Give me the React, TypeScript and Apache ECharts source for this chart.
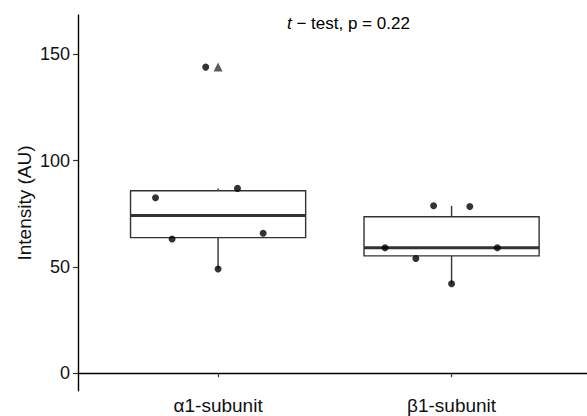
import React, { useEffect, useRef } from "react";
import * as echarts from "echarts";

const categories = ["α1-subunit", "β1-subunit"];
const alphaValues = [143.9, 82.5, 86.9, 63.1, 49.0, 65.8];
const alphaJitter = [0.947, 0.732, 1.083, 0.803, 1.0, 1.193];
const betaValues = [78.7, 78.4, 59.0, 59.0, 53.9, 42.1];
const betaJitter = [1.923, 2.078, 1.715, 2.196, 1.847, 2.0];
const yTicks = [0, 50, 100, 150];
const xTicks = [1, 2];
const yTitle = "Intensity (AU)";

function quantile(sorted: number[], p: number) {
  const h = (sorted.length - 1) * p;
  const lo = Math.floor(h);
  const hi = Math.min(lo + 1, sorted.length - 1);
  return sorted[lo] + (h - lo) * (sorted[hi] - sorted[lo]);
}

function boxStats(vals: number[]) {
  const s = [...vals].sort((a, b) => a - b);
  const q1 = quantile(s, 0.25);
  const med = quantile(s, 0.5);
  const q3 = quantile(s, 0.75);
  const iqr = q3 - q1;
  const inside = s.filter((v) => v >= q1 - 1.5 * iqr && v <= q3 + 1.5 * iqr);
  const outliers = s.filter((v) => v < q1 - 1.5 * iqr || v > q3 + 1.5 * iqr);
  return { lo: inside[0], q1, med, q3, hi: inside[inside.length - 1], outliers };
}

export default function App() {
  const ref = useRef<HTMLDivElement>(null);
  useEffect(() => {
    if (!ref.current) return;
    const chart = echarts.init(ref.current, undefined, { renderer: "svg" });
    const groups = [alphaValues, betaValues];
    const stats = groups.map(boxStats);
    const boxData = stats.map((s, i) => [i + 1, s.lo, s.q1, s.med, s.q3, s.hi]);
    const outlierData: number[][] = [];
    stats.forEach((s, i) => s.outliers.forEach((o) => outlierData.push([i + 1, o])));
    const pointData: number[][] = [];
    alphaValues.forEach((v, i) => pointData.push([alphaJitter[i], v]));
    betaValues.forEach((v, i) => pointData.push([betaJitter[i], v]));

    const font = "'Liberation Sans', Arial, sans-serif";
    const boxColor = "#333333";

    chart.setOption({
      animation: false,
      grid: { left: 78, right: 0, top: 15, bottom: 25.3, containLabel: false },
      xAxis: {
        type: "value",
        min: 0.4,
        max: 2.58,
        splitLine: { show: false },
        axisLine: { show: true, lineStyle: { color: "#000", width: 1.4 } },
        axisTick: { show: true, customValues: xTicks, length: 4, lineStyle: { color: "#333", width: 1.2 } },
        axisLabel: {
          customValues: xTicks,
          formatter: (v: number) => categories[Math.round(v) - 1] ?? "",
          fontSize: 19,
          color: "#111",
          fontFamily: font,
          margin: 5,
        },
      },
      yAxis: {
        type: "value",
        min: -8.2,
        max: 168.4,
        splitLine: { show: false },
        axisLine: { show: true, lineStyle: { color: "#000", width: 1.4 } },
        axisTick: { show: true, customValues: yTicks, length: 5, lineStyle: { color: "#333", width: 1.2 } },
        axisLabel: {
          customValues: yTicks,
          fontSize: 18,
          color: "#111",
          fontFamily: font,
          margin: 8,
        },
      },
      graphic: [
        {
          type: "text",
          left: 287,
          top: 15,
          style: {
            text: "{i|t} − test, p = 0.22",
            fontSize: 17,
            fontFamily: font,
            fill: "#000",
            rich: {
              i: { fontStyle: "italic", fontSize: 17, fontFamily: font, fill: "#000" },
            },
          },
        },
        {
          type: "text",
          x: 24,
          y: 203,
          rotation: Math.PI / 2,
          style: {
            text: yTitle,
            fontSize: 19,
            fontFamily: font,
            fill: "#111",
            align: "center",
            verticalAlign: "middle",
          },
        },
      ],
      series: [
        {
          type: "custom",
          data: boxData,
          renderItem: (params: any, api: any) => {
            const x = api.value(0);
            const lo = api.value(1);
            const q1 = api.value(2);
            const med = api.value(3);
            const q3 = api.value(4);
            const hi = api.value(5);
            const half = 0.375;
            const tl = api.coord([x - half, q3]);
            const br = api.coord([x + half, q1]);
            const cTop = api.coord([x, hi]);
            const cBot = api.coord([x, lo]);
            const mL = api.coord([x - half, med]);
            const mR = api.coord([x + half, med]);
            const line = { stroke: boxColor, lineWidth: 1.4 };
            return {
              type: "group",
              children: [
                { type: "line", shape: { x1: cTop[0], y1: tl[1], x2: cTop[0], y2: cTop[1] }, style: line },
                { type: "line", shape: { x1: cBot[0], y1: br[1], x2: cBot[0], y2: cBot[1] }, style: line },
                {
                  type: "rect",
                  shape: { x: tl[0], y: tl[1], width: br[0] - tl[0], height: br[1] - tl[1] },
                  style: { fill: "#fff", stroke: boxColor, lineWidth: 1.4 },
                },
                { type: "line", shape: { x1: mL[0], y1: mL[1], x2: mR[0], y2: mR[1] }, style: { stroke: boxColor, lineWidth: 3 } },
              ],
            };
          },
          z: 1,
        },
        {
          type: "scatter",
          data: outlierData,
          symbol: "triangle",
          symbolSize: 9,
          itemStyle: { color: "#333" },
          z: 2,
        },
        {
          type: "scatter",
          data: pointData,
          symbol: "circle",
          symbolSize: 7,
          itemStyle: { color: "#000" },
          z: 3,
        },
      ],
    });
    return () => chart.dispose();
  }, []);
  return <div ref={ref} style={{ position: "absolute", left: 0, top: 0, width: 587, height: 416 }} />;
}
